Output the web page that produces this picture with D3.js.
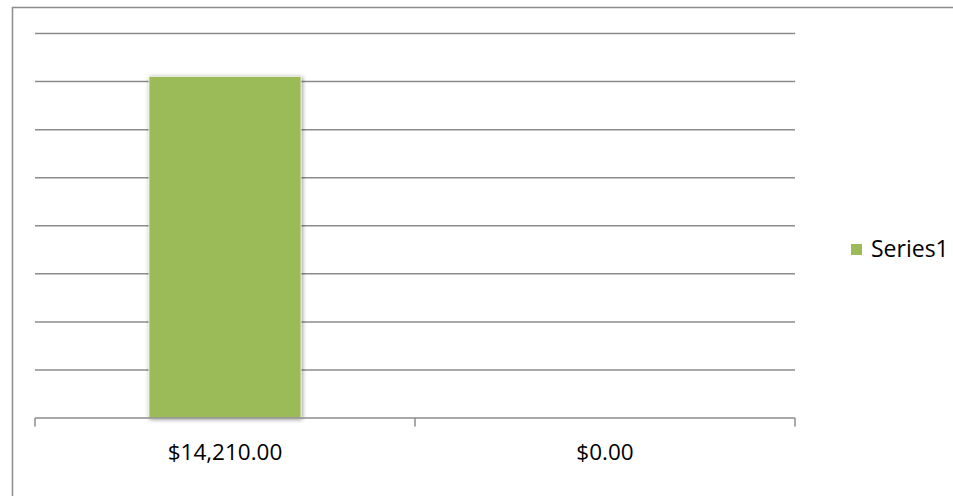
<!DOCTYPE html>
<html>
<head>
<meta charset="utf-8">
<script src="https://cdn.jsdelivr.net/npm/d3@7/dist/d3.min.js"></script>
<style>
  html, body { margin: 0; padding: 0; background: #fff; }
  svg { display: block; }
  text { font-family: "Open Sans", "Noto Sans", sans-serif; fill: #000; }
</style>
</head>
<body>
<svg id="chart" width="953" height="496"></svg>
<script>
// Data
const categories = ["$14,210.00", "$0.00"];
const series1 = [14210, 0];
const seriesName = "Series1";
const yMax = 16000;
const yStep = 2000;

const svg = d3.select("#chart");
const plot = { left: 35, right: 795, top: 33.5, bottom: 418 };

// Outer chart border (extends beyond frame on right & bottom)
svg.append("rect")
  .attr("x", 12.5).attr("y", 7.5)
  .attr("width", 1000).attr("height", 600)
  .attr("fill", "none").attr("stroke", "#8c8c8c").attr("stroke-width", 1.5);

const x = d3.scaleBand().domain(categories).range([plot.left, plot.right]).paddingInner(0).paddingOuter(0);
const y = d3.scaleLinear().domain([0, yMax]).range([plot.bottom, plot.top]);

// Shadow filter
const defs = svg.append("defs");
const f = defs.append("filter").attr("id", "shadow").attr("x", "-20%").attr("y", "-20%").attr("width", "140%").attr("height", "140%");
f.append("feGaussianBlur").attr("in", "SourceAlpha").attr("stdDeviation", 2.2).attr("result", "blur");
f.append("feOffset").attr("in", "blur").attr("dx", 1).attr("dy", 1).attr("result", "off");
f.append("feComponentTransfer").attr("in", "off").attr("result", "soft")
  .append("feFuncA").attr("type", "linear").attr("slope", 0.45);
const m = f.append("feMerge");
m.append("feMergeNode").attr("in", "soft");
m.append("feMergeNode").attr("in", "SourceGraphic");

// Gridlines
const ticks = d3.range(yStep, yMax + 1, yStep);
svg.append("g").selectAll("line").data(ticks).join("line")
  .attr("x1", plot.left).attr("x2", plot.right)
  .attr("y1", d => y(d)).attr("y2", d => y(d))
  .attr("stroke", "#8c8c8c").attr("stroke-width", 1.5);

// Bars
const bw = x.bandwidth() / 2.5;
svg.append("g").selectAll("rect").data(series1).join("rect")
  .attr("x", (d, i) => x(categories[i]) + (x.bandwidth() - bw) / 2)
  .attr("y", d => y(d))
  .attr("width", bw)
  .attr("height", d => y(0) - y(d))
  .attr("fill", "#9bbb59")
  .attr("stroke", "#eef3e3").attr("stroke-width", 0.8)
  .attr("filter", "url(#shadow)");

// X axis
svg.append("line")
  .attr("x1", plot.left).attr("x2", plot.right)
  .attr("y1", plot.bottom).attr("y2", plot.bottom)
  .attr("stroke", "#8c8c8c").attr("stroke-width", 1.5);
const boundaries = [plot.left].concat(categories.map(c => x(c) + x.bandwidth()));
svg.append("g").selectAll("line").data(boundaries).join("line")
  .attr("x1", d => d).attr("x2", d => d)
  .attr("y1", plot.bottom).attr("y2", plot.bottom + 8.5)
  .attr("stroke", "#8c8c8c").attr("stroke-width", 1.5);
svg.append("g").selectAll("text").data(categories).join("text")
  .attr("x", d => x(d) + x.bandwidth() / 2)
  .attr("y", 460)
  .attr("text-anchor", "middle")
  .attr("font-size", 22.5)
  .text(d => d);

// Legend
svg.append("rect").attr("x", 851).attr("y", 244).attr("width", 11).attr("height", 11).attr("fill", "#9bbb59");
svg.append("text").attr("x", 871).attr("y", 257).attr("font-size", 23).text(seriesName);
</script>
</body>
</html>
